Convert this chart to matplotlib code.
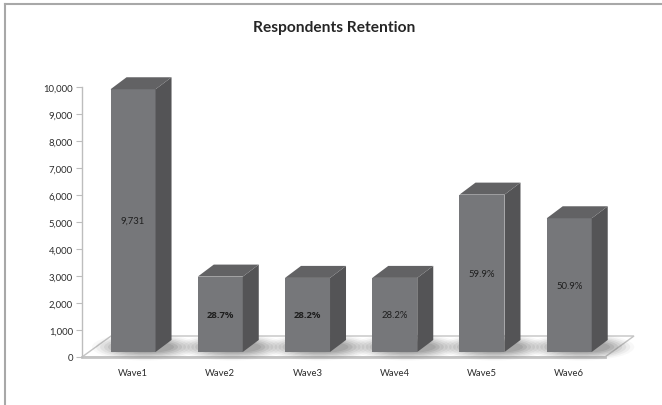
import matplotlib
matplotlib.use("Agg")
import matplotlib.pyplot as plt
from matplotlib.patches import Polygon, Ellipse
from matplotlib.lines import Line2D
import numpy as np

# Respondents per wave
waves = ["Wave1", "Wave2", "Wave3", "Wave4", "Wave5", "Wave6"]
respondents = [9731, 2793, 2744, 2744, 5829, 4953]
bold_label = [False, True, True, False, False, False]
y_ticks = [0, 1000, 2000, 3000, 4000, 5000, 6000, 7000, 8000, 9000, 10000]

W, H, DPI = 662, 406, 100
fig = plt.figure(figsize=(W / DPI, H / DPI), dpi=DPI)
fig.patch.set_facecolor("white")

# outer frame (top and left edges visible)
fig.add_artist(Line2D([5 / W, 1], [1 - 5 / H, 1 - 5 / H], color="#a8a8a8", lw=1.5,
                      transform=fig.transFigure))
fig.add_artist(Line2D([5 / W, 5 / W], [0, 1 - 5 / H], color="#a8a8a8", lw=1.5,
                      transform=fig.transFigure))

ax_left, ax_right, ax_top, ax_bot = 82, 605, 88, 358
ax = fig.add_axes([ax_left / W, 1 - ax_bot / H, (ax_right - ax_left) / W,
                   (ax_bot - ax_top) / H])
ax.set_facecolor("none")

xmin, xmax = -0.585, 5.41
ax.set_xlim(xmin, xmax)
ax.set_ylim(0, 10000)

px_x = (xmax - xmin) / (ax_right - ax_left)   # data units per pixel (x)
px_y = 10000 / (ax_bot - ax_top)              # data units per pixel (y)

# floor
fdx, fdy = 29 * px_x, 21 * px_y
floor = Polygon([(xmin, 0), (xmax, 0), (xmax + fdx, fdy), (xmin + fdx, fdy)],
                closed=True, facecolor="white", edgecolor="#c4c4c4", lw=1.0,
                clip_on=False, zorder=1)
ax.add_patch(floor)
ax.plot([xmin, xmax], [0, 0], color="#c4c4c4", lw=2.0, clip_on=False, zorder=1.1)

# bars
half_w = 22.5 * px_x
ddx, ddy = 16 * px_x, 12 * px_y
lift = 5 * px_y
front_c, side_c, top_c = "#76777a", "#545456", "#626264"

for i, (v, b) in enumerate(zip(respondents, bold_label)):
    x0, x1 = i - half_w, i + half_w
    y0, y1 = lift, lift + v
    # soft shadow on the floor
    for k, a in enumerate(np.linspace(0.22, 0.05, 7)):
        ax.add_patch(Ellipse((i + 12 * px_x, lift + 5 * px_y),
                             width=(58 + 8 * k) * px_x, height=(12 + 2.5 * k) * px_y,
                             facecolor="#7a7a7a", edgecolor="none", alpha=a,
                             zorder=1.5, clip_on=False))
    ax.bar(i, v, width=2 * half_w, bottom=lift, color=front_c, zorder=3,
           edgecolor="none")
    ax.add_patch(Polygon([(x1, y0), (x1 + ddx, y0 + ddy), (x1 + ddx, y1 + ddy), (x1, y1)],
                         closed=True, facecolor=side_c, edgecolor="none", zorder=3,
                         clip_on=False))
    ax.add_patch(Polygon([(x0, y1), (x1, y1), (x1 + ddx, y1 + ddy), (x0 + ddx, y1 + ddy)],
                         closed=True, facecolor=top_c, edgecolor="none", zorder=3,
                         clip_on=False))
    if i == 0:
        label = f"{v:,}"
    else:
        label = f"{100 * v / respondents[0]:.1f}%"
    ax.text(i, lift + v / 2, label, ha="center", va="center", fontsize=6.8,
            family="Open Sans" if b else "Lato",
            fontweight="bold" if b else "normal", color="#1e1e1e", zorder=4)

# axes styling
for s in ["top", "right", "bottom"]:
    ax.spines[s].set_visible(False)
ax.spines["left"].set_color("#bdbdbd")
ax.spines["left"].set_linewidth(1.0)
ax.set_yticks(y_ticks)
ax.set_yticklabels([f"{t:,}" for t in y_ticks], fontsize=6.8, family="Lato",
                   color="#2b2b2b")
ax.tick_params(axis="y", length=4, width=0.8, color="#bdbdbd", pad=2.5)
ax.set_xticks(range(len(waves)))
ax.set_xticklabels(waves, fontsize=6.8, family="Lato", color="#2b2b2b")
ax.tick_params(axis="x", length=0, pad=8)

fig.text(334 / W, 1 - 28 / H, "Respondents Retention", ha="center", va="center",
         fontsize=11.2, family="Lato", fontweight="bold", color="#262626")

fig.savefig("out.png", dpi=DPI)
